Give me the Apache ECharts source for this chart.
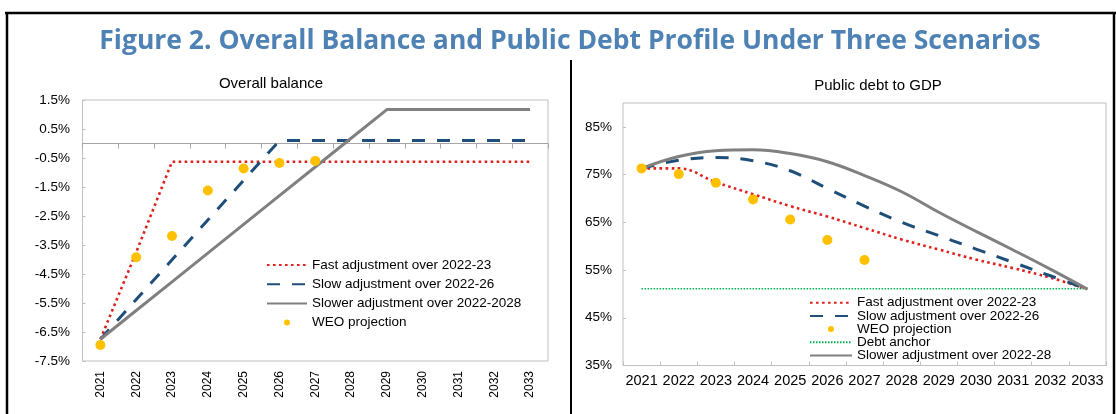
<!DOCTYPE html>
<html><head><meta charset="utf-8">
<script src="https://cdn.jsdelivr.net/npm/echarts@6/dist/echarts.min.js"></script>
<style>html,body{margin:0;padding:0;background:#fff}#c{width:1116px;height:414px}</style>
</head><body><div id="c"></div>
<script>
const years = ['2021','2022','2023','2024','2025','2026','2027','2028','2029','2030','2031','2032','2033'];

// Overall balance (% of GDP)
const balanceFast   = [-6.75, -3.75, -0.63, -0.63, -0.63, -0.63, -0.63, -0.63, -0.63, -0.63, -0.63, -0.63, -0.63];
const balanceSlow   = [-6.75, -5.38, -4.01, -2.64, -1.27, 0.1, 0.1, 0.1, 0.1, 0.1, 0.1, 0.1, 0.1];
const balanceSlower = [-6.75, -5.76, -4.77, -3.78, -2.79, -1.8, -0.81, 0.18, 1.17, 1.17, 1.17, 1.17, 1.17];
const balanceWEO    = [-6.95, -3.92, -3.19, -1.62, -0.86, -0.67, -0.6];

// Public debt to GDP (%)
const debtFast   = [76.3, 76.3, 73.4, 70.9, 68.4, 66.2, 63.8, 61.4, 59.3, 57.2, 55.4, 53.4, 51.0];
const debtSlow   = [76.3, 78.0, 78.6, 77.9, 75.8, 72.1, 68.4, 65.0, 62.2, 59.4, 56.6, 53.8, 51.0];
const debtSlower = [76.3, 78.8, 80.0, 80.2, 79.4, 77.7, 74.8, 71.4, 67.1, 63.1, 59.2, 55.2, 51.0];
const debtWEO    = [76.3, 75.1, 73.3, 69.8, 65.6, 61.3, 57.1];
const debtAnchor = [51.1, 51.1, 51.1, 51.1, 51.1, 51.1, 51.1, 51.1, 51.1, 51.1, 51.1, 51.1, 51.1];

const balanceTicks = { min: -7.5, max: 1.5, interval: 1 };
const debtTicks = { min: 35, max: 90, interval: 10 };

const FONT = '"Liberation Sans", Arial, sans-serif';
const RED = '#E0211B', BLUE = '#1F4E79', GREY = '#808080', GOLD = '#FFC000', GREEN = '#00B050';
const fastStyle = { color: RED, width: 2.6, type: [2.6, 3.4] };
const slowStyle = { color: BLUE, width: 3, type: [13, 12] };
const slowerStyle = { color: GREY, width: 3, type: 'solid' };

const lineItem = name => ({ name: name, itemStyle: { opacity: 0 } });

const chart = echarts.init(document.getElementById('c'), null, { renderer: 'canvas' });
chart.setOption({
  backgroundColor: '#fff',
  animation: false,
  title: [
    { text: 'Figure 2. Overall Balance and Public Debt Profile Under Three Scenarios', left: 565, textAlign: 'center', top: 23,
      textStyle: { fontFamily: '"Open Sans", sans-serif', fontWeight: 'bold', fontSize: 26.5, color: '#4E81B4' } },
    { text: 'Overall balance', left: 266, top: 71, textAlign: 'center',
      textStyle: { fontFamily: FONT, fontWeight: 'normal', fontSize: 15, color: '#000' } },
    { text: 'Public debt to GDP', left: 873, top: 73.5, textAlign: 'center',
      textStyle: { fontFamily: FONT, fontWeight: 'normal', fontSize: 15, color: '#000' } }
  ],
  graphic: [
    { type: 'line', shape: { x1: 5, y1: 13, x2: 1116, y2: 13 }, style: { stroke: '#000', lineWidth: 2.5 } },
    { type: 'line', shape: { x1: 7, y1: 13, x2: 7, y2: 414 }, style: { stroke: '#000', lineWidth: 2.5 } },
    { type: 'line', shape: { x1: 1114, y1: 13, x2: 1114, y2: 414 }, style: { stroke: '#000', lineWidth: 2.5 } },
    { type: 'line', shape: { x1: 571, y1: 60, x2: 571, y2: 414 }, style: { stroke: '#000', lineWidth: 2 } }
  ],
  legend: [
    { orient: 'vertical', left: 261, top: 252, itemWidth: 40, itemHeight: 6, itemGap: 3.2,
      textStyle: { fontFamily: FONT, fontSize: 13.5, color: '#000', lineHeight: 16 },
      data: [lineItem('Fast adjustment over 2022-23'), lineItem('Slow adjustment over 2022-26'),
             lineItem('Slower adjustment over 2022-2028'), 'WEO projection'] },
    { orient: 'vertical', left: 804, top: 290.7, itemWidth: 42, itemHeight: 6, itemGap: -0.8,
      textStyle: { fontFamily: FONT, fontSize: 13.5, color: '#000', lineHeight: 11.4 },
      data: [lineItem('Fast adjustment over 2022-23'), lineItem('Slow adjustment over 2022-26'), 'WEO projection',
             lineItem('Debt anchor'), lineItem('Slower adjustment over 2022-28')] }
  ],
  grid: [
    { left: 82.5, top: 100, width: 465.5, height: 261, show: true, borderColor: '#BFBFBF', borderWidth: 1, backgroundColor: 'transparent' },
    { left: 623, top: 103, width: 483, height: 262.5, show: true, borderColor: '#BFBFBF', borderWidth: 1, backgroundColor: 'transparent' }
  ],
  xAxis: [
    { type: 'category', gridIndex: 0, data: years, position: 'bottom',
      axisLine: { show: false, onZero: false }, axisTick: { show: false },
      axisLabel: { interval: 0, rotate: 90, margin: 10, fontFamily: FONT, fontSize: 12, color: '#000' } },
    { type: 'category', gridIndex: 0, data: years, position: 'bottom',
      axisLine: { show: true, onZero: true, onZeroAxisIndex: 0, lineStyle: { color: '#A6A6A6', width: 1 } },
      axisTick: { show: true, interval: 0, length: 5, lineStyle: { color: '#A6A6A6' } },
      axisLabel: { show: false } },
    { type: 'category', gridIndex: 1, data: years, position: 'bottom',
      axisLine: { show: true, onZero: false, lineStyle: { color: '#BFBFBF' } },
      axisTick: { show: true, interval: 0, inside: true, length: 4, lineStyle: { color: '#BFBFBF' } },
      axisLabel: { interval: 0, margin: 8, fontFamily: FONT, fontSize: 14.5, color: '#000' } }
  ],
  yAxis: [
    { type: 'value', gridIndex: 0, min: balanceTicks.min, max: balanceTicks.max, interval: balanceTicks.interval,
      splitLine: { show: false }, axisLine: { show: false },
      axisTick: { show: true, inside: true, length: 3, lineStyle: { color: '#BFBFBF' } },
      axisLabel: { margin: 12.5, fontFamily: FONT, fontSize: 13.5, color: '#000',
        formatter: v => (Math.round(v * 10) / 10).toFixed(1) + '%' } },
    { type: 'value', gridIndex: 1, min: debtTicks.min, max: debtTicks.max, interval: debtTicks.interval,
      splitLine: { show: false }, axisLine: { show: false },
      axisTick: { show: true, inside: true, length: 3, lineStyle: { color: '#BFBFBF' } },
      axisLabel: { margin: 11, fontFamily: FONT, fontSize: 13.5, color: '#000', showMaxLabel: false,
        formatter: v => v + '%' } }
  ],
  series: [
    { name: 'Fast adjustment over 2022-23', type: 'line', xAxisIndex: 0, yAxisIndex: 0, data: balanceFast,
      symbol: 'none', lineStyle: fastStyle, itemStyle: { color: RED }, z: 3 },
    { name: 'Slow adjustment over 2022-26', type: 'line', xAxisIndex: 0, yAxisIndex: 0, data: balanceSlow,
      symbol: 'none', lineStyle: slowStyle, itemStyle: { color: BLUE }, z: 3 },
    { name: 'Slower adjustment over 2022-2028', type: 'line', xAxisIndex: 0, yAxisIndex: 0, data: balanceSlower,
      symbol: 'none', lineStyle: slowerStyle, itemStyle: { color: GREY }, z: 3 },
    { name: 'WEO projection', type: 'scatter', xAxisIndex: 0, yAxisIndex: 0, data: balanceWEO,
      symbol: 'circle', symbolSize: 10, itemStyle: { color: GOLD, opacity: 1 }, z: 5 },

    { name: 'Fast adjustment over 2022-23', type: 'line', xAxisIndex: 2, yAxisIndex: 1, data: debtFast, smooth: 0.4,
      symbol: 'none', lineStyle: fastStyle, itemStyle: { color: RED }, z: 3 },
    { name: 'Slow adjustment over 2022-26', type: 'line', xAxisIndex: 2, yAxisIndex: 1, data: debtSlow, smooth: 0.4,
      symbol: 'none', lineStyle: slowStyle, itemStyle: { color: BLUE }, z: 3 },
    { name: 'Debt anchor', type: 'line', xAxisIndex: 2, yAxisIndex: 1, data: debtAnchor,
      symbol: 'none', lineStyle: { color: GREEN, width: 1.5, type: [1.5, 1.5] }, itemStyle: { color: GREEN }, z: 2 },
    { name: 'Slower adjustment over 2022-28', type: 'line', xAxisIndex: 2, yAxisIndex: 1, data: debtSlower, smooth: 0.4,
      symbol: 'none', lineStyle: slowerStyle, itemStyle: { color: GREY }, z: 3 },
    { name: 'WEO projection', type: 'scatter', xAxisIndex: 2, yAxisIndex: 1, data: debtWEO,
      symbol: 'circle', symbolSize: 10, itemStyle: { color: GOLD, opacity: 1 }, z: 5 }
  ]
});
</script>
</body></html>
